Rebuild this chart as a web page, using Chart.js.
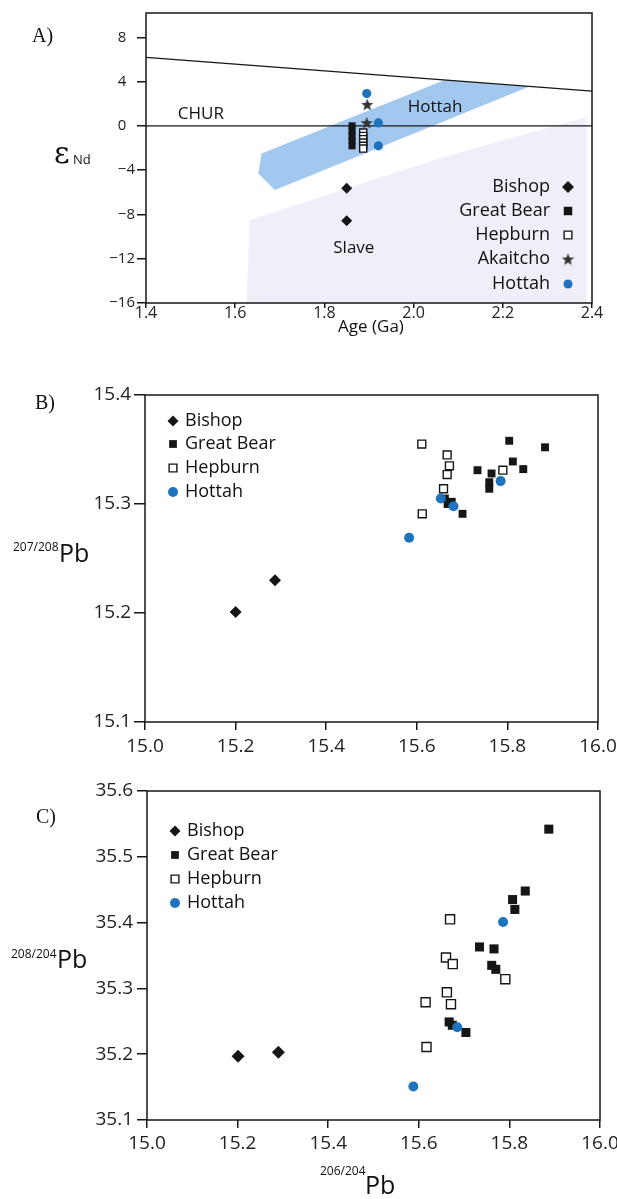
<!DOCTYPE html>
<html>
<head>
<meta charset="utf-8">
<script src="https://cdn.jsdelivr.net/npm/chart.js@4.4.0/dist/chart.umd.min.js"></script>
<style>
  body { margin: 0; background: #fff; width: 617px; height: 1199px; overflow: hidden; position: relative; }
  .panel { position: absolute; left: 0; width: 617px; }
</style>
</head>
<body>
<div class="panel" style="top:0;height:345px"><canvas id="chartA"></canvas></div>
<div class="panel" style="top:345px;height:425px"><canvas id="chartB"></canvas></div>
<div class="panel" style="top:770px;height:429px"><canvas id="chartC"></canvas></div>
<script>
// ---- panel A : eNd vs age ----
const ageTicks = [1.4, 1.6, 1.8, 2.0, 2.2, 2.4];
const endTicks = [-16, -12, -8, -4, 0, 4, 8];
const bishopA = [[1.85, -5.64], [1.85, -8.56]];
const greatBearA = [[1.862, 0.0], [1.862, -0.45], [1.862, -0.9], [1.862, -1.35], [1.862, -1.8]];
const hepburnA = [[1.887, -0.6], [1.887, -0.9], [1.887, -1.2], [1.887, -1.5], [1.887, -1.8], [1.887, -2.05]];
const akaitchoA = [[1.896, 1.95], [1.895, 0.3]];
const hottahA = [[1.895, 2.92], [1.921, 0.27], [1.921, -1.8]];
const dmLine = [[1.4, 6.2], [2.4, 3.15]];
const churLine = [[1.4, 0], [2.4, 0]];
const hottahBand = [[1.652, -4.29], [1.659, -2.49], [2.07, 4.14], [2.26, 3.57], [1.689, -5.79]];
const slaveField = [[1.633, -8.5], [2.06, -2.9], [2.388, 0.8], [2.388, -16], [1.625, -16]];

// ---- panel B : 207/208Pb vs 206/204Pb ----
const pbTicks = [15.0, 15.2, 15.4, 15.6, 15.8, 16.0];
const pb207Ticks = [15.1, 15.2, 15.3, 15.4];
const bishopB = [[15.2, 15.201], [15.287, 15.230]];
const greatBearB = [[15.804, 15.358], [15.883, 15.352], [15.812, 15.339], [15.835, 15.332], [15.734, 15.331],
  [15.765, 15.328], [15.760, 15.320], [15.760, 15.314], [15.662, 15.305], [15.677, 15.302], [15.668, 15.300], [15.701, 15.291]];
const hepburnB = [[15.611, 15.355], [15.667, 15.345], [15.672, 15.335], [15.667, 15.327], [15.659, 15.314],
  [15.612, 15.291], [15.790, 15.331]];
const hottahB = [[15.583, 15.269], [15.653, 15.305], [15.681, 15.298], [15.785, 15.321]];

// ---- panel C : 208/204Pb vs 206/204Pb ----
const pb208Ticks = [35.1, 35.2, 35.3, 35.4, 35.5, 35.6];
const bishopC = [[15.201, 35.197], [15.290, 35.203]];
const greatBearC = [[15.887, 35.542], [15.835, 35.448], [15.807, 35.435], [15.812, 35.420], [15.734, 35.363],
  [15.766, 35.360], [15.761, 35.335], [15.770, 35.329], [15.667, 35.249], [15.674, 35.244], [15.704, 35.233]];
const hepburnC = [[15.669, 35.405], [15.660, 35.347], [15.675, 35.337], [15.791, 35.314], [15.662, 35.294],
  [15.615, 35.279], [15.671, 35.276], [15.617, 35.211]];
const hottahC = [[15.588, 35.151], [15.786, 35.401], [15.685, 35.241]];

const FONT = '"Open Sans", sans-serif';
const INK = '#161616';
const BLUE = '#1e73be';

const toXY = pts => pts.map(p => ({ x: p[0], y: p[1] }));

function makeStar(size, color) {
  const c = document.createElement('canvas');
  c.width = c.height = size;
  const g = c.getContext('2d');
  g.fillStyle = color;
  g.beginPath();
  const cx = size / 2, cy = size / 2 + size * 0.05, R = size / 2, r = R * 0.42;
  for (let i = 0; i < 10; i++) {
    const a = -Math.PI / 2 + i * Math.PI / 5;
    const rr = i % 2 ? r : R;
    g.lineTo(cx + rr * Math.cos(a), cy + rr * Math.sin(a));
  }
  g.closePath();
  g.fill();
  return c;
}
const starImg = makeStar(13, '#333');

function zeroPad(s) {
  s.paddingTop = s.paddingBottom = s.paddingLeft = s.paddingRight = 0;
}

function styles(size) {
  return {
    bishop: { pointStyle: 'rectRot', pointRadius: size.d, backgroundColor: INK, borderColor: INK, borderWidth: 0 },
    greatBear: { pointStyle: 'rect', pointRadius: size.s, backgroundColor: INK, borderColor: INK, borderWidth: 0 },
    hepburn: { pointStyle: 'rect', pointRadius: size.s, backgroundColor: '#fff', borderColor: INK, borderWidth: 1.4 },
    akaitcho: { pointStyle: starImg, pointRadius: 6, backgroundColor: '#333', borderColor: '#333', borderWidth: 0 },
    hottah: { pointStyle: 'circle', pointRadius: size.c, backgroundColor: BLUE, borderColor: BLUE, borderWidth: 0 }
  };
}

function scatterSet(label, pts, st, order) {
  return Object.assign({ label: label, data: toXY(pts), order: order, pointHoverRadius: st.pointRadius }, st);
}

function lineSet(pts) {
  return { data: toXY(pts), showLine: true, pointRadius: 0, borderColor: INK, borderWidth: 1.3, fill: false, order: 10 };
}

function axis(min, max, tickList, fmt, box, font, tickLen, pad) {
  return {
    type: 'linear', min: min, max: max,
    afterBuildTicks: s => { s.ticks = tickList.map(v => ({ value: v })); },
    afterFit: s => { box(s); zeroPad(s); },
    ticks: { callback: fmt, font: { family: FONT, size: font }, color: '#222', padding: pad, maxRotation: 0, autoSkip: false },
    grid: { drawOnChartArea: false, drawTicks: true, tickLength: tickLen, color: INK, lineWidth: 1.5 },
    border: { display: false }
  };
}

function drawText(ctx, text, x, y, size, family, align, baseline) {
  ctx.save();
  ctx.fillStyle = '#111';
  ctx.font = size + 'px ' + family;
  ctx.textAlign = align || 'left';
  ctx.textBaseline = baseline || 'alphabetic';
  ctx.fillText(text, x, y);
  ctx.restore();
}

function drawPolygon(chart, pts, color) {
  const xs = chart.scales.x, ys = chart.scales.y, a = chart.chartArea, ctx = chart.ctx;
  ctx.save();
  ctx.beginPath();
  ctx.rect(a.left, a.top, a.right - a.left, a.bottom - a.top);
  ctx.clip();
  ctx.beginPath();
  pts.forEach((p, i) => {
    const px = xs.getPixelForValue(p[0]), py = ys.getPixelForValue(p[1]);
    if (i === 0) ctx.moveTo(px, py); else ctx.lineTo(px, py);
  });
  ctx.closePath();
  ctx.fillStyle = color;
  ctx.fill();
  ctx.restore();
}

function drawFrame(chart) {
  const a = chart.chartArea, ctx = chart.ctx;
  ctx.save();
  ctx.strokeStyle = INK;
  ctx.lineWidth = 1.5;
  ctx.strokeRect(a.left, a.top, a.right - a.left, a.bottom - a.top);
  ctx.restore();
}

function drawLegend(ctx, items, markerX, textX, align) {
  items.forEach(it => {
    drawText(ctx, it.label, textX, it.y, 18, FONT, align, 'middle');
    ctx.save();
    ctx.fillStyle = it.st.backgroundColor;
    ctx.strokeStyle = it.st.borderColor;
    ctx.lineWidth = it.st.borderWidth;
    Chart.helpers.drawPoint(ctx, { pointStyle: it.st.pointStyle, radius: it.r, rotation: 0, borderWidth: it.st.borderWidth }, markerX, it.y);
    ctx.restore();
  });
}

function baseOptions(areaLeft, areaTop, areaRight, areaBottom, w, h, xAxisH) {
  return {
    responsive: true,
    maintainAspectRatio: false,
    animation: false,
    events: [],
    layout: { padding: { left: 0, top: areaTop, right: w - areaRight, bottom: h - areaBottom - xAxisH } },
    plugins: { legend: { display: false }, tooltip: { enabled: false } }
  };
}

const fmtSigned = v => v < 0 ? '\u2212' + Math.abs(v) : v + '\u2007';
const fmt1 = v => v.toFixed(1);

// ---------- A ----------
const stA = styles({ d: 5.5, s: 5, c: 4.6 });
const optA = baseOptions(146, 13, 592, 303, 617, 345, 30);
optA.scales = {
  x: axis(1.4, 2.4, ageTicks, fmt1, s => { s.height = 30; }, 16, 5, -4),
  y: axis(-16, 10.2, endTicks, fmtSigned, s => { s.width = 146; }, 15, 9, 2)
};
new Chart(document.getElementById('chartA'), {
  type: 'scatter',
  data: {
    datasets: [
      lineSet(dmLine),
      lineSet(churLine),
      scatterSet('Bishop', bishopA, stA.bishop, 5),
      scatterSet('Great Bear', greatBearA, stA.greatBear, 4),
      scatterSet('Hepburn', hepburnA, stA.hepburn, 3),
      scatterSet('Hottah', hottahA, stA.hottah, 2),
      scatterSet('Akaitcho', akaitchoA, stA.akaitcho, 1)
    ]
  },
  options: optA,
  plugins: [{
    id: 'decorA',
    beforeDatasetsDraw(chart) {
      drawPolygon(chart, slaveField, '#f0eef9');
      drawPolygon(chart, hottahBand, '#a2c8f0');
    },
    afterDatasetsDraw(chart) {
      const xs = chart.scales.x, ys = chart.scales.y, ctx = chart.ctx;
      drawText(ctx, 'CHUR', xs.getPixelForValue(1.523), ys.getPixelForValue(1.1), 17, FONT, 'center', 'middle');
      drawText(ctx, 'Hottah', xs.getPixelForValue(2.048), ys.getPixelForValue(1.73), 17, FONT, 'center', 'middle');
      drawText(ctx, 'Slave', xs.getPixelForValue(1.866), ys.getPixelForValue(-11.06), 17, FONT, 'center', 'middle');
    },
    afterDraw(chart) {
      const ctx = chart.ctx;
      drawFrame(chart);
      drawText(ctx, 'A)', 32, 42, 20, '"Liberation Serif", serif');
      drawText(ctx, '\u03b5', 54, 163, 30, '"DejaVu Serif", serif');
      drawText(ctx, 'Nd', 73, 164, 13, FONT);
      drawText(ctx, 'Age (Ga)', 371, 332, 17, FONT, 'center');
      drawLegend(ctx, [
        { label: 'Bishop', y: 187, st: stA.bishop, r: 6 },
        { label: 'Great Bear', y: 211, st: stA.greatBear, r: 6 },
        { label: 'Hepburn', y: 235, st: stA.hepburn, r: 5.5 },
        { label: 'Akaitcho', y: 259, st: stA.akaitcho, r: 6 },
        { label: 'Hottah', y: 284, st: stA.hottah, r: 4.5 }
      ], 568, 550, 'right');
    }
  }]
});

// ---------- B ----------
const stB = styles({ d: 6, s: 5.6, c: 5 });
const optB = baseOptions(145, 50, 598, 377, 617, 425, 30);
optB.scales = {
  x: axis(15, 16, pbTicks, fmt1, s => { s.height = 30; }, 19, 8, 5),
  y: axis(15.1, 15.4, pb207Ticks, fmt1, s => { s.width = 145; }, 19, 11, 3)
};
new Chart(document.getElementById('chartB'), {
  type: 'scatter',
  data: {
    datasets: [
      scatterSet('Bishop', bishopB, stB.bishop, 4),
      scatterSet('Great Bear', greatBearB, stB.greatBear, 3),
      scatterSet('Hepburn', hepburnB, stB.hepburn, 2),
      scatterSet('Hottah', hottahB, stB.hottah, 1)
    ]
  },
  options: optB,
  plugins: [{
    id: 'decorB',
    afterDraw(chart) {
      const ctx = chart.ctx, top = 345;
      drawFrame(chart);
      drawText(ctx, 'B)', 35, 409 - top, 20, '"Liberation Serif", serif');
      drawText(ctx, '207/208', 13, 551 - top, 12, FONT);
      drawText(ctx, 'Pb', 59, 562 - top, 25, FONT);
      drawLegend(ctx, [
        { label: 'Bishop', y: 421 - top, st: stB.bishop, r: 5.5 },
        { label: 'Great Bear', y: 444 - top, st: stB.greatBear, r: 5.5 },
        { label: 'Hepburn', y: 468 - top, st: stB.hepburn, r: 5.5 },
        { label: 'Hottah', y: 492 - top, st: stB.hottah, r: 5 }
      ], 173, 185, 'left');
    }
  }]
});

// ---------- C ----------
const stC = styles({ d: 6.5, s: 6.4, c: 5 });
const optC = baseOptions(147, 21, 600, 350, 617, 429, 30);
optC.scales = {
  x: axis(15, 16, pbTicks, fmt1, s => { s.height = 30; }, 19, 8, 4),
  y: axis(35.1, 35.6, pb208Ticks, fmt1, s => { s.width = 147; }, 19, 10, 4)
};
new Chart(document.getElementById('chartC'), {
  type: 'scatter',
  data: {
    datasets: [
      scatterSet('Bishop', bishopC, stC.bishop, 4),
      scatterSet('Great Bear', greatBearC, stC.greatBear, 3),
      scatterSet('Hepburn', hepburnC, stC.hepburn, 2),
      scatterSet('Hottah', hottahC, stC.hottah, 1)
    ]
  },
  options: optC,
  plugins: [{
    id: 'decorC',
    afterDraw(chart) {
      const ctx = chart.ctx, top = 770;
      drawFrame(chart);
      drawText(ctx, 'C)', 36, 823 - top, 20, '"Liberation Serif", serif');
      drawText(ctx, '208/204', 11, 958 - top, 12, FONT);
      drawText(ctx, 'Pb', 57, 968 - top, 25, FONT);
      drawText(ctx, '206/204', 320, 1175 - top, 12, FONT);
      drawText(ctx, 'Pb', 365, 1194 - top, 25, FONT);
      drawLegend(ctx, [
        { label: 'Bishop', y: 831 - top, st: stC.bishop, r: 5.5 },
        { label: 'Great Bear', y: 855 - top, st: stC.greatBear, r: 5.5 },
        { label: 'Hepburn', y: 879 - top, st: stC.hepburn, r: 5.5 },
        { label: 'Hottah', y: 903 - top, st: stC.hottah, r: 5 }
      ], 175, 187, 'left');
    }
  }]
});
</script>
</body>
</html>
